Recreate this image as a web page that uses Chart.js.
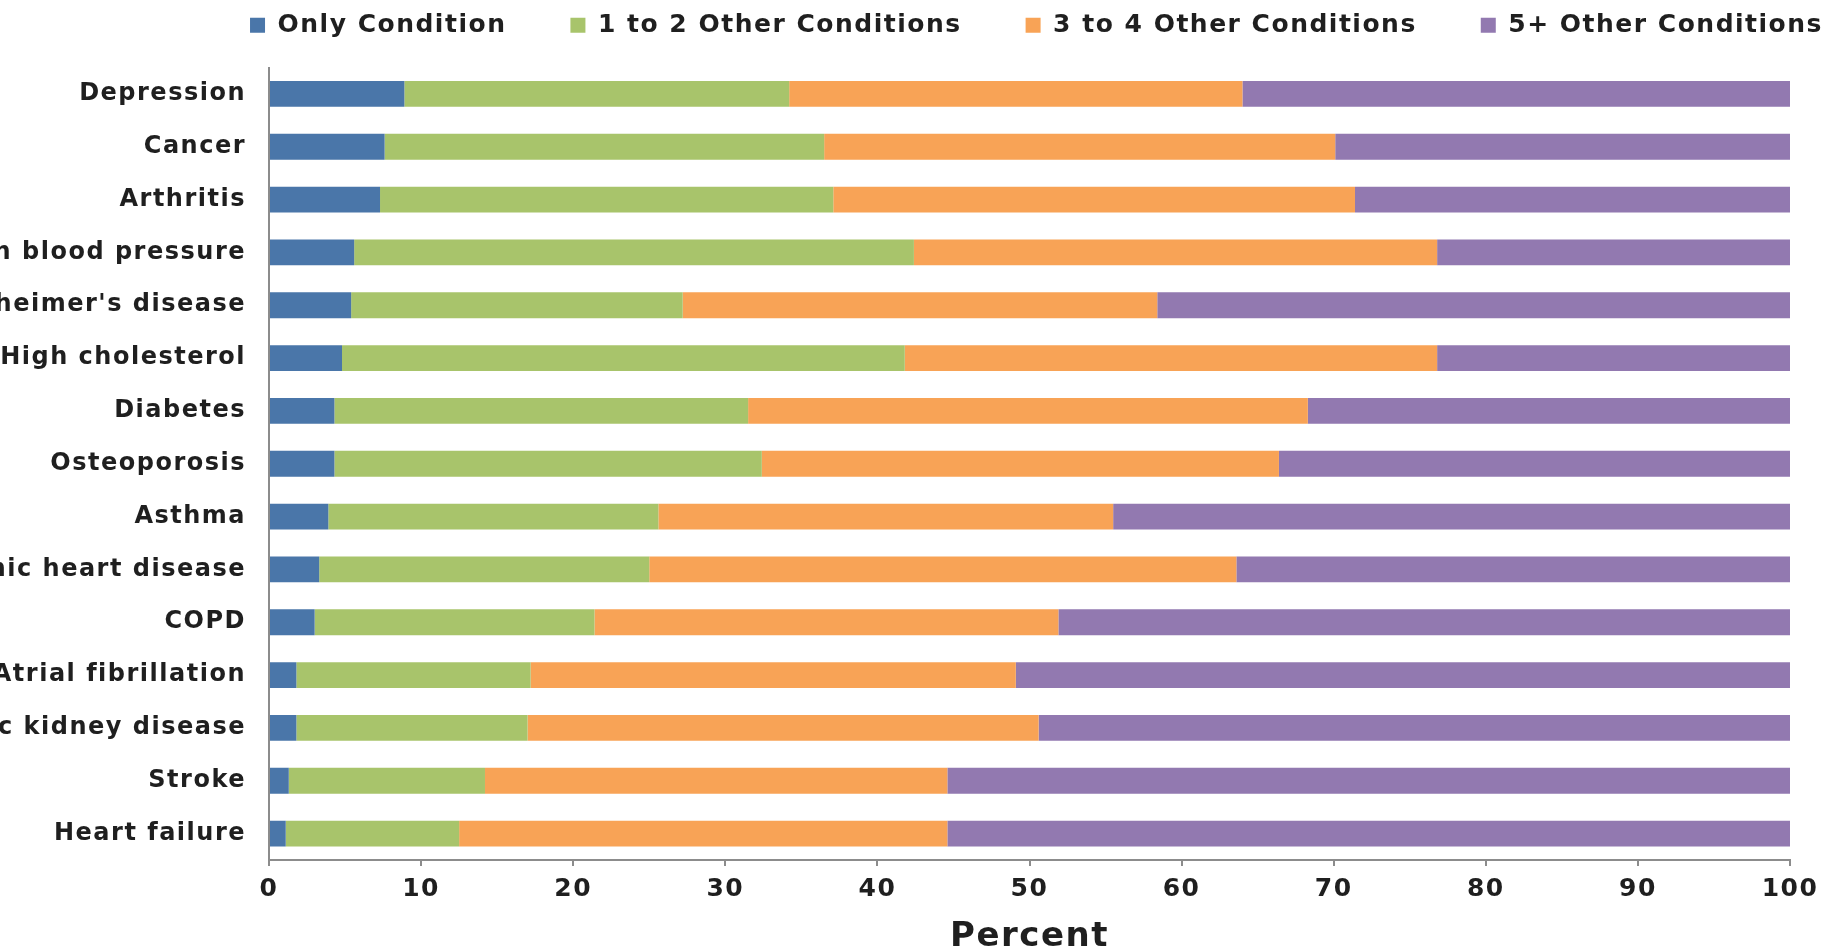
<!DOCTYPE html>
<html>
<head>
<meta charset="utf-8">
<title>Share of patients by number of other chronic conditions</title>
<script src="https://cdn.jsdelivr.net/npm/chart.js@4.4.1/dist/chart.umd.min.js"></script>
<style>
  html, body { margin: 0; padding: 0; background: #ffffff; overflow: hidden; }
  #chart { display: block; }
</style>
</head>
<body>
<canvas id="chart" width="1822" height="952" style="width:1822px;height:952px"></canvas>
<script>
// Conditions, top to bottom
const conditions = [
  'Depression', 'Cancer', 'Arthritis', 'High blood pressure', "Alzheimer's disease",
  'High cholesterol', 'Diabetes', 'Osteoporosis', 'Asthma', 'Ischemic heart disease',
  'COPD', 'Atrial fibrillation', 'Chronic kidney disease', 'Stroke', 'Heart failure'
];

// Percent of patients in each group (each row adds up to 100)
const onlyCondition = [8.9, 7.6, 7.3, 5.6, 5.4, 4.8, 4.3, 4.3, 3.9, 3.3, 3.0, 1.8, 1.8, 1.3, 1.1];
const oneToTwoOther = [25.3, 28.9, 29.8, 36.8, 21.8, 37.0, 27.2, 28.1, 21.7, 21.7, 18.4, 15.4, 15.2, 12.9, 11.4];
const threeToFourOther = [29.8, 33.6, 34.3, 34.4, 31.2, 35.0, 36.8, 34.0, 29.9, 38.6, 30.5, 31.9, 33.6, 30.4, 32.1];
const fivePlusOther = [36.0, 29.9, 28.6, 23.2, 41.6, 23.2, 31.7, 33.6, 44.5, 36.4, 48.1, 50.9, 49.4, 55.4, 55.4];

const seriesNames = ['Only Condition', '1 to 2 Other Conditions', '3 to 4 Other Conditions', '5+ Other Conditions'];
const percentTicks = [0, 10, 20, 30, 40, 50, 60, 70, 80, 90, 100];
const axisTitle = 'Percent';

const palette = ['#4A76A9', '#A8C46B', '#F8A356', '#9279B0'];
const textColor = '#1f1f1f';
const axisColor = '#8c8c8c';
const FONT = 'DejaVu Sans';

// Slightly wider letter spacing for every text drawn on the canvas
const textTracking = {
  id: 'textTracking',
  beforeLayout(chart) { chart.ctx.letterSpacing = '1.5px'; },
  beforeDraw(chart) { chart.ctx.letterSpacing = '1.5px'; }
};

// Empty band between the legend and the plot
const legendGap = {
  id: 'legendGap',
  beforeInit(chart) {
    Chart.layouts.addBox(chart, {
      position: 'top',
      weight: 500,
      fullSize: true,
      options: {},
      left: 0, top: 0, right: 0, bottom: 0, width: 0, height: 0,
      isHorizontal() { return true; },
      update(maxWidth) { this.width = maxWidth; this.height = 19.7; },
      draw() {}
    });
  }
};

const seriesValues = [onlyCondition, oneToTwoOther, threeToFourOther, fivePlusOther];

new Chart(document.getElementById('chart'), {
  type: 'bar',
  data: {
    labels: conditions,
    datasets: seriesNames.map((name, i) => ({
      label: name,
      data: seriesValues[i],
      backgroundColor: palette[i],
      borderWidth: 0,
      barPercentage: 0.49,
      categoryPercentage: 1.0
    }))
  },
  options: {
    indexAxis: 'y',
    responsive: false,
    animation: false,
    events: [],
    // the legend row runs wider than the plot on the right
    layout: { padding: { top: -51.2, left: 0, right: -251, bottom: 0 } },
    plugins: {
      tooltip: { enabled: false },
      legend: {
        position: 'top',
        align: 'center',
        labels: {
          boxWidth: 15,
          boxHeight: 15,
          padding: 64,
          color: textColor,
          font: { family: FONT, size: 25, weight: 'bold' }
        }
      }
    },
    scales: {
      x: {
        stacked: true,
        min: 0,
        max: 100,
        afterBuildTicks(scale) { scale.ticks = percentTicks.map(v => ({ value: v })); },
        afterFit(scale) { scale.height = 92; scale.paddingRight = 32; },
        grid: {
          display: true,
          drawOnChartArea: false,
          drawTicks: true,
          tickLength: 6,
          color: axisColor,
          lineWidth: 2
        },
        border: { display: true, color: axisColor, width: 2 },
        ticks: {
          color: textColor,
          padding: 8,
          maxRotation: 0,
          font: { family: FONT, size: 25, weight: 'bold' }
        },
        title: {
          display: true,
          text: axisTitle,
          color: textColor,
          padding: { top: 0, bottom: 0 },
          font: { family: FONT, size: 34, weight: 'bold', lineHeight: 0.9 }
        }
      },
      y: {
        stacked: true,
        afterFit(scale) { scale.width = 269; },
        grid: { display: false, drawTicks: false },
        border: { display: true, color: axisColor, width: 2 },
        ticks: {
          color: textColor,
          padding: 23,
          autoSkip: false,
          font: { family: FONT, size: 24, weight: 'bold' }
        }
      }
    }
  },
  plugins: [textTracking, legendGap]
});
</script>
</body>
</html>
